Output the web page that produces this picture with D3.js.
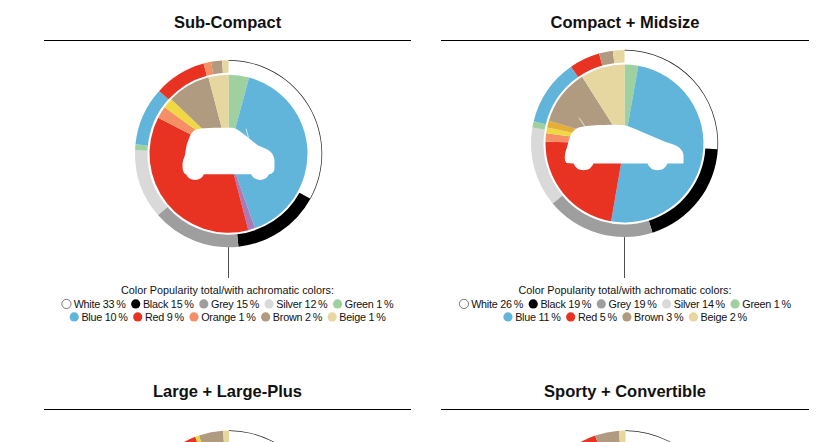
<!DOCTYPE html>
<html>
<head>
<meta charset="utf-8">
<script src="https://cdn.jsdelivr.net/npm/d3@7"></script>
<style>
  html, body { margin: 0; padding: 0; background: #fff; overflow: hidden; }
  svg { display: block; }
  text { font-family: "Liberation Sans", Arial, sans-serif; fill: #111; }
</style>
</head>
<body>
<svg id="chart" width="839" height="442"></svg>
<script>
const palette = {
  White: '#ffffff', Black: '#000000', Grey: '#9e9e9f', Silver: '#d9d9d9', Green: '#9fd09f',
  Blue: '#62b5da', Purple: '#a97ab5', Red: '#e83323', Orange: '#f58f65', Yellow: '#f0d843',
  Gold: '#e5ae35', Brown: '#b09a80', Beige: '#e6d6a0'
};

const titles = ['Sub-Compact', 'Compact + Midsize', 'Large + Large-Plus', 'Sporty + Convertible'];
const legendTitle = 'Color Popularity total/with achromatic colors:';

// outer ring, whole market share as drawn
const ringNames = ['White', 'Black', 'Grey', 'Silver', 'Green', 'Blue', 'Red', 'Orange', 'Yellow', 'Brown', 'Beige'];
const ringSub = [33, 15.3, 15.3, 12, 1, 10.1, 9, 1.3, 0, 1.9, 1.1];
const ringCompact = [26, 19.2, 18.8, 13.8, 1.1, 11.5, 5.3, 0, 0, 2.4, 2];
// bottom row is cut off by the page, only the top of these rings shows
const ringLarge = [30, 18, 17, 14, 1, 10, 4.3, 0, 0.7, 4.2, 1];
const ringSporty = [30, 18, 17, 14, 1, 10.7, 3, 0, 0, 4.1, 1.1];

// inner pie, chromatic colors only
const pieNames = ['Green', 'Blue', 'Purple', 'Red', 'Orange', 'Yellow', 'Gold', 'Brown', 'Beige'];
const pieSub = [4.2, 40.4, 1.4, 36.6, 2.5, 2.1, 0, 8.8, 4.1];
const pieCompact = [2.8, 49.8, 0, 22.6, 1.7, 1.2, 1.4, 11.3, 9];

// legend lines
const legendSub = [
  [['White', 33], ['Black', 15], ['Grey', 15], ['Silver', 12], ['Green', 1]],
  [['Blue', 10], ['Red', 9], ['Orange', 1], ['Brown', 2], ['Beige', 1]]
];
const legendCompact = [
  [['White', 26], ['Black', 19], ['Grey', 19], ['Silver', 14], ['Green', 1]],
  [['Blue', 11], ['Red', 5], ['Brown', 3], ['Beige', 2]]
];

const svg = d3.select('#chart');
const pie = d3.pie().sort(null).value(d => d.value);
const ringArc = d3.arc().innerRadius(81).outerRadius(93.5);
const pieArc = d3.arc().innerRadius(0).outerRadius(79);

const panels = [
  { title: titles[0], cx: 228.5, cy: 153.7, ruleY: 40.5, titleY: 28, x0: 44, x1: 411, ring: ringSub, inner: pieSub, legend: legendSub, car: 'small' },
  { title: titles[1], cx: 624.5, cy: 143.5, ruleY: 40.5, titleY: 28, x0: 441, x1: 809, ring: ringCompact, inner: pieCompact, legend: legendCompact, car: 'wagon' },
  { title: titles[2], cx: 229, cy: 524, ruleY: 409.5, titleY: 397, x0: 44, x1: 411, ring: ringLarge },
  { title: titles[3], cx: 625.5, cy: 524, ruleY: 409.5, titleY: 397, x0: 441, x1: 809, ring: ringSporty }
];

// car outlines, centred on the pie. antenna is the thin slit above the body
const carPaths = {
  small: 'M-46,12 C-46,6 -44,4 -43.5,1 C-42.5,-5 -42,-10 -40,-14 C-38,-19 -37,-22 -33,-24 C-28,-26 -14,-26 4,-26 C9,-25 12,-22 16.5,-18.7 L28.8,-8.7 C34,-6 39,-5 42,-2 C45,1 46,4 46,8 L46,14 C46,18 44,20 40.5,20.6 A10,10 0 0 1 22.5,20.6 L-24.5,20.6 A10,10 0 0 1 -42.5,20.6 C-45,20 -46,16 -46,12 Z',
  wagon: 'M-59.5,17 C-60,11 -59,8 -57.8,4.8 C-56,-1 -55,-7 -52.8,-10.2 C-50,-14 -48,-15.5 -44,-16.5 C-36,-18 -28,-18.5 -19.5,-18.5 C-10,-19 -3,-18.5 2.2,-17.8 C9,-15.5 14,-13 20.5,-10.2 L40.5,-1.8 C46,0 51,1 54,3.5 C57,6 59,9 59,12 L59,20 L43,20 A10.8,10.8 0 0 1 23,20 L-31,20 A10.8,10.8 0 0 1 -51,20 L-58,19.5 Z'
};
const antennaPaths = {
  small: 'M17.5,-25 L20,-16',
  wagon: 'M-45.5,-25.8 L-39.5,-17'
};

panels.forEach(p => {
  const g = svg.append('g');
  g.append('text')
    .attr('x', (p.x0 + p.x1) / 2).attr('y', p.titleY)
    .attr('text-anchor', 'middle')
    .attr('font-size', 16.5).attr('font-weight', 'bold')
    .text(p.title);
  g.append('line')
    .attr('x1', p.x0).attr('x2', p.x1).attr('y1', p.ruleY).attr('y2', p.ruleY)
    .attr('stroke', '#000').attr('stroke-width', 1);

  const chart = g.append('g').attr('transform', `translate(${p.cx},${p.cy})`);

  const ringData = pie(ringNames.map((n, i) => ({ name: n, value: p.ring[i] })));
  chart.selectAll('path.ring').data(ringData).join('path')
    .attr('class', 'ring')
    .attr('d', ringArc)
    .attr('fill', d => palette[d.data.name]);

  // white share only gets a hairline on its outer edge
  const white = ringData[0];
  chart.append('path')
    .attr('d', d3.arc()({ innerRadius: 93, outerRadius: 93.7, startAngle: white.startAngle, endAngle: white.endAngle }))
    .attr('fill', '#222');

  if (p.inner) {
    const innerData = pie(pieNames.map((n, i) => ({ name: n, value: p.inner[i] })));
    chart.selectAll('path.wedge').data(innerData).join('path')
      .attr('class', 'wedge')
      .attr('d', pieArc)
      .attr('fill', d => palette[d.data.name]);
  }

  if (p.car) {
    chart.append('path').attr('d', carPaths[p.car]).attr('fill', '#fff');
    chart.append('path').attr('d', antennaPaths[p.car])
      .attr('fill', 'none').attr('stroke', '#fff').attr('stroke-width', 0.7);
  }

  if (p.legend) {
    chart.append('line')
      .attr('x1', 0).attr('x2', 0).attr('y1', 93.5).attr('y2', 278 - p.cy)
      .attr('stroke', '#222').attr('stroke-width', 0.8);
    drawLegend(g, (p.x0 + p.x1) / 2, p.legend);
  }
});

function drawLegend(g, cx, lines) {
  const size = 10.8;
  g.append('text')
    .attr('x', cx).attr('y', 294)
    .attr('text-anchor', 'middle').attr('font-size', size)
    .text(legendTitle);

  lines.forEach((line, li) => {
    const y = 307.5 + li * 13;
    const row = g.append('g');
    let x = 0;
    line.forEach(([name, v]) => {
      row.append('circle')
        .attr('cx', x + 4.8).attr('cy', y - 3.6).attr('r', 4.6)
        .attr('fill', palette[name])
        .attr('stroke', name === 'White' ? '#222' : 'none').attr('stroke-width', 0.6);
      const t = row.append('text')
        .attr('x', x + 12).attr('y', y).attr('font-size', size)
        .attr('letter-spacing', -0.24)
        .text(`${name} ${v}\u2009%`);
      x += 12 + t.node().getComputedTextLength() + 5.3;
    });
    row.attr('transform', `translate(${cx - (x - 5.3) / 2},0)`);
  });
}
</script>
</body>
</html>
